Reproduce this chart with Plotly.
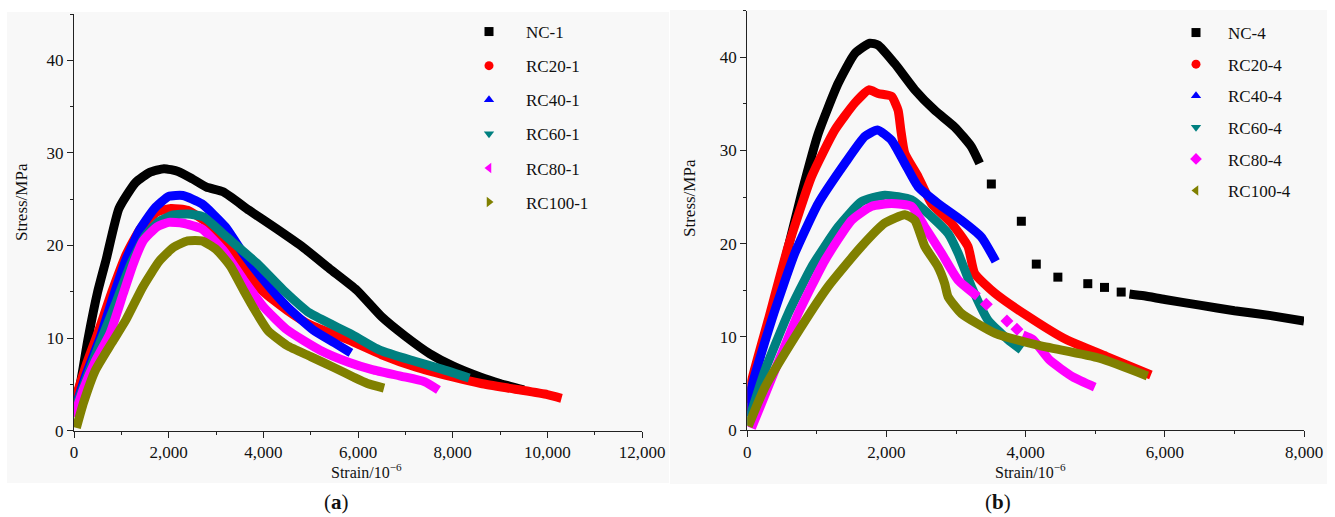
import plotly.graph_objects as go

# ---------------- data (a) ----------------
nc1_strain = [0, 130, 300, 500, 680, 950, 1300, 1600, 1900, 2200, 2500, 2800, 3150, 3700, 4280, 4840, 5400, 5970, 6500, 7000, 7520, 8000, 8580, 9000, 9500]
nc1_stress = [2.5, 5, 10, 15, 18.5, 24, 26.8, 27.9, 28.3, 28.0, 27.2, 26.3, 25.8, 23.8, 21.8, 19.8, 17.5, 15.2, 12.3, 10.2, 8.3, 7.0, 5.8, 5.1, 4.4]

rc20_1_strain = [0, 250, 500, 800, 1100, 1400, 1750, 2050, 2400, 2800, 3200, 3600, 4000, 4500, 5000, 5800, 6500, 7200, 8000, 8600, 9300, 10000, 10300]
rc20_1_stress = [3, 7, 10.5, 15, 19, 21.8, 23.6, 24.0, 23.8, 22.5, 20.5, 17.5, 15, 13, 11.4, 9.8, 8.2, 6.9, 5.8, 5.1, 4.5, 3.9, 3.5]

rc40_1_strain = [0, 250, 550, 830, 1100, 1400, 1700, 2000, 2300, 2700, 3200, 3580, 4000, 4500, 5050, 5500, 5850]
rc40_1_stress = [2, 6, 10, 14.5, 18.5, 21.8, 24, 25.3, 25.4, 24.5, 22, 19.1, 16.3, 13.4, 10.9, 9.5, 8.4]

rc60_1_strain = [0, 250, 550, 900, 1200, 1500, 1800, 2100, 2400, 2730, 3230, 3860, 4420, 4980, 5830, 6460, 7200, 7800, 8350]
rc60_1_stress = [2, 5.5, 9.5, 14, 18, 21, 22.6, 23.3, 23.4, 23.1, 20.9, 18.1, 15.2, 12.7, 10.5, 8.7, 7.5, 6.6, 5.7]

rc80_1_strain = [0, 200, 450, 760, 1040, 1250, 1460, 1750, 2000, 2300, 2700, 3150, 3580, 4000, 4500, 5200, 5800, 6300, 6900, 7400, 7700]
rc80_1_stress = [1.5, 4.5, 7.5, 10.5, 14.8, 18, 20.5, 22, 22.5, 22.4, 21.8, 19.5, 16.3, 13.4, 10.9, 8.7, 7.4, 6.6, 5.9, 5.3, 4.4]

rc100_1_strain = [50, 200, 450, 800, 1100, 1450, 1800, 2100, 2400, 2700, 3000, 3300, 3600, 3800, 4100, 4500, 5000, 5500, 5900, 6200, 6550]
rc100_1_stress = [0.3, 3, 6.5, 9.5, 12, 15.5, 18.3, 19.8, 20.5, 20.5, 19.6, 17.8, 15, 13.2, 10.8, 9.2, 8.0, 6.8, 5.8, 5.1, 4.6]

# ---------------- data (b) ----------------
nc4_strain_dense1 = [14, 254, 541, 781, 1019, 1306, 1546, 1761, 1880, 2120, 2407, 2694, 2981, 3220, 3339]
nc4_stress_dense1 = [2.9, 10, 18.2, 25.4, 31.8, 37.2, 40.4, 41.5, 41.3, 39.3, 36.5, 34.3, 32.5, 30.4, 28.6]
nc4_strain_sparse = [3507, 3938, 4153, 4463, 4893, 5133, 5373]
nc4_stress_sparse = [26.4, 22.4, 17.8, 16.4, 15.7, 15.3, 14.8]
nc4_strain_dense2 = [5492, 5700, 6000, 6500, 7000, 7500, 8000]
nc4_stress_dense2 = [14.6, 14.4, 14.0, 13.4, 12.8, 12.3, 11.7]

rc20_4_strain = [0, 39, 301, 588, 924, 1259, 1546, 1747, 1880, 2072, 2167, 2206, 2263, 2454, 2646, 2933, 3171, 3268, 3555, 4033, 4583, 5157, 5800]
rc20_4_stress = [2, 4.6, 11.8, 19.7, 27.2, 32.2, 35.1, 36.5, 36.1, 35.8, 34.3, 32.2, 29.7, 27.2, 24.3, 22.2, 19.7, 16.8, 14.7, 12.2, 9.7, 7.9, 5.9]

rc40_4_strain = [0, 63, 350, 685, 1019, 1402, 1689, 1871, 2072, 2263, 2454, 2741, 3077, 3364, 3570]
rc40_4_stress = [1.5, 4.6, 11.8, 19.0, 24.3, 28.6, 31.5, 32.2, 31.1, 28.6, 26.1, 24.3, 22.5, 20.7, 18.1]

rc60_4_strain = [0, 254, 588, 924, 1306, 1641, 1976, 2359, 2646, 2885, 3028, 3220, 3458, 3745, 3938]
rc60_4_stress = [0.5, 6.4, 12.5, 17.5, 21.8, 24.5, 25.2, 24.7, 22.9, 21.1, 19.0, 15.4, 11.8, 9.7, 8.6]

rc80_4_strain_a = [60, 397, 732, 1115, 1498, 1785, 2072, 2359, 2550, 2789, 3028, 3315]
rc80_4_stress_a = [0.2, 6.4, 12.5, 18.2, 22.5, 24.0, 24.3, 24.0, 21.8, 19.0, 16.1, 14.3]
rc80_4_strain_sparse = [3435, 3731, 3875]
rc80_4_stress_sparse = [13.5, 11.7, 10.8]
rc80_4_strain_b = [3960, 4104, 4344, 4678, 4993]
rc80_4_stress_b = [10.2, 9.7, 7.5, 5.7, 4.6]

rc100_4_strain = [14, 254, 685, 1162, 1641, 1976, 2263, 2407, 2550, 2741, 2837, 2885, 3077, 3555, 4176, 5061, 5750]
rc100_4_stress = [0.4, 4.6, 10.0, 15.4, 19.7, 22.2, 23.1, 22.5, 19.7, 17.5, 15.7, 14.3, 12.5, 10.4, 9.1, 7.7, 5.8]

names_a = ["NC-1", "RC20-1", "RC40-1", "RC60-1", "RC80-1", "RC100-1"]
names_b = ["NC-4", "RC20-4", "RC40-4", "RC60-4", "RC80-4", "RC100-4"]
colors = ["#000000", "#ff0000", "#0000ff", "#008080", "#ff00ff", "#808000"]
symbols_a = ["square", "circle", "triangle-up", "triangle-down", "triangle-left", "triangle-right"]
symbols_b = ["square", "circle", "triangle-up", "triangle-down", "diamond", "triangle-left"]

FONT = "Liberation Serif"
W, H = 1335, 517
LW = 9
TXT = "#111"

fig = go.Figure()

def line(x, y, color, xa, ya):
    fig.add_trace(go.Scatter(x=x, y=y, mode="lines", xaxis=xa, yaxis=ya,
                             line=dict(color=color, width=LW, shape="spline", smoothing=0.5),
                             showlegend=False, hoverinfo="skip"))

def pts(x, y, color, sym, size, xa, ya):
    fig.add_trace(go.Scatter(x=x, y=y, mode="markers", xaxis=xa, yaxis=ya,
                             marker=dict(color=color, symbol=sym, size=size),
                             showlegend=False, hoverinfo="skip"))

series_a = [(nc1_strain, nc1_stress), (rc20_1_strain, rc20_1_stress), (rc40_1_strain, rc40_1_stress),
            (rc60_1_strain, rc60_1_stress), (rc80_1_strain, rc80_1_stress), (rc100_1_strain, rc100_1_stress)]
for (x, y), c in zip(series_a, colors):
    line(x, y, c, "x", "y")

# panel b
line(nc4_strain_dense1, nc4_stress_dense1, colors[0], "x2", "y2")
pts(nc4_strain_sparse, nc4_stress_sparse, colors[0], "square", 9, "x2", "y2")
line(nc4_strain_dense2, nc4_stress_dense2, colors[0], "x2", "y2")
line(rc20_4_strain, rc20_4_stress, colors[1], "x2", "y2")
line(rc40_4_strain, rc40_4_stress, colors[2], "x2", "y2")
line(rc60_4_strain, rc60_4_stress, colors[3], "x2", "y2")
line(rc80_4_strain_a, rc80_4_stress_a, colors[4], "x2", "y2")
pts(rc80_4_strain_sparse, rc80_4_stress_sparse, colors[4], "diamond", 10, "x2", "y2")
line(rc80_4_strain_b, rc80_4_stress_b, colors[4], "x2", "y2")
line(rc100_4_strain, rc100_4_stress, colors[5], "x2", "y2")

# legend entries
for n, c, s in zip(names_a, colors, symbols_a):
    fig.add_trace(go.Scatter(x=[None], y=[None], mode="markers", name=n, legend="legend",
                             legendgroup=n, xaxis="x", yaxis="y",
                             marker=dict(color=c, symbol=s, size=9)))
for n, c, s in zip(names_b, colors, symbols_b):
    fig.add_trace(go.Scatter(x=[None], y=[None], mode="markers", name=n, legend="legend2",
                             legendgroup=n, xaxis="x2", yaxis="y2",
                             marker=dict(color=c, symbol=s, size=9)))

def px_x(p):
    return p / W

def px_y(p):
    return 1 - p / H

axis_common = dict(showline=True, linecolor="#222", linewidth=1.3, ticks="outside", ticklen=6,
                   tickwidth=1.2, tickcolor="#222", showgrid=False, zeroline=False, automargin=False,
                   tickfont=dict(family=FONT, size=17, color=TXT), fixedrange=True)
minor_x = dict(dtick=1000, ticklen=3, ticks="outside", tickcolor="#222", tickwidth=1.2)
minor_y = dict(dtick=5, ticklen=3, ticks="outside", tickcolor="#222", tickwidth=1.2)

def note(text, x, y, size, angle=0):
    return dict(text=text, xref="paper", yref="paper", x=px_x(x), y=px_y(y), xanchor="center",
                yanchor="middle", textangle=angle, showarrow=False, borderpad=0,
                font=dict(family=FONT, size=size, color=TXT))

fig.update_layout(
    width=W, height=H, margin=dict(l=0, r=0, t=0, b=0, pad=0, autoexpand=False),
    paper_bgcolor="white", plot_bgcolor="rgba(0,0,0,0)",
    font=dict(family=FONT, size=16, color=TXT),
    xaxis=dict(domain=[px_x(74), px_x(642)], range=[0, 12000], dtick=2000, tickformat=",",
               anchor="y", minor=minor_x, **axis_common),
    yaxis=dict(domain=[px_y(430.7), px_y(14)], range=[0, 45], dtick=10, anchor="x",
               minor=minor_y, **axis_common),
    xaxis2=dict(domain=[px_x(747.3), px_x(1304)], range=[0, 8000], dtick=2000, tickformat=",",
                anchor="y2", minor=minor_x, **axis_common),
    yaxis2=dict(domain=[px_y(430), px_y(10.6)], range=[0, 45], dtick=10, anchor="x2",
                minor=minor_y, **axis_common),
    legend=dict(x=px_x(452), y=px_y(14), xanchor="left", yanchor="top", bgcolor="rgba(0,0,0,0)",
                font=dict(family=FONT, size=17, color=TXT), tracegroupgap=9, itemwidth=64),
    legend2=dict(x=px_x(1164), y=px_y(15), xanchor="left", yanchor="top", bgcolor="rgba(0,0,0,0)",
                 font=dict(family=FONT, size=17, color=TXT), tracegroupgap=6.5, itemwidth=54),
    shapes=[
        dict(type="rect", xref="paper", yref="paper", x0=px_x(7), x1=px_x(669), y0=px_y(483), y1=px_y(12),
             fillcolor="#f8f8f8", line=dict(width=0), layer="below"),
        dict(type="rect", xref="paper", yref="paper", x0=px_x(670), x1=px_x(1327), y0=px_y(484), y1=px_y(10),
             fillcolor="#f8f8f8", line=dict(width=0), layer="below"),
    ],
    annotations=[
        note("Stress/MPa", 21, 202, 17, -90),
        note("Stress/MPa", 689, 198, 17, -90),
        note("Strain/10<sup>−6</sup>", 366, 471, 16),
        note("Strain/10<sup>−6</sup>", 1030, 471, 16),
        note("(<b>a</b>)", 336, 502, 21),
        note("(<b>b</b>)", 998, 502, 21),
    ],
)

fig.write_html("out.html")
